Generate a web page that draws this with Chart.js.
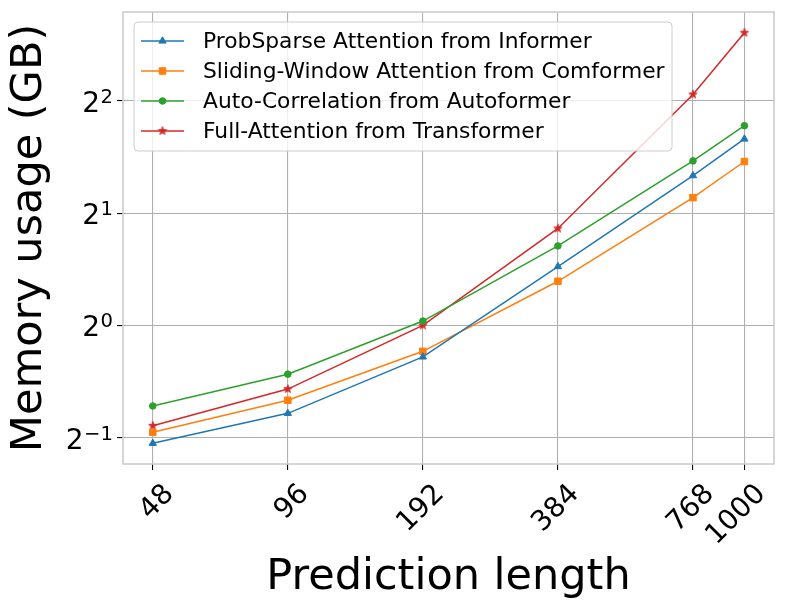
<!DOCTYPE html>
<html><head><meta charset="utf-8">
<script src="https://cdn.jsdelivr.net/npm/chart.js@4.4.0/dist/chart.umd.min.js"></script>
<style>html,body{margin:0;padding:0;background:#fff}#wrap{width:793px;height:611px;position:relative}</style>
</head><body><div id="wrap"><canvas id="c" width="793" height="611"></canvas></div>
<script>
// ---- data ----
const predictionLengths = [48, 96, 192, 384, 768, 1000];
const xTickLabels = ['48', '96', '192', '384', '768', '1000'];
const informerMem = [0.483, 0.581, 0.823, 1.438, 2.52, 3.16];
const comformerMem = [0.517, 0.630, 0.852, 1.313, 2.20, 2.75];
const autoformerMem = [0.608, 0.740, 1.027, 1.633, 2.76, 3.43];
const transformerMem = [0.538, 0.675, 1.0, 1.819, 4.16, 6.09];
const seriesNames = ['ProbSparse Attention from Informer', 'Sliding-Window Attention from Comformer', 'Auto-Correlation from Autoformer', 'Full-Attention from Transformer'];
const yTickValues = [0.5, 1, 2, 4];
const yTickBase = '2';
const yTickExponents = ['\u22121', '0', '1', '2'];
const xTitle = 'Prediction length';
const yTitle = 'Memory usage (GB)';

const FONT = "'DejaVu Sans', sans-serif";
const colors = ['#1f77b4', '#ff7f0e', '#2ca02c', '#d62728'];

function makeStar(color, R) {
  const s = 12;
  const c = document.createElement('canvas'); c.width = s; c.height = s;
  const g = c.getContext('2d');
  g.beginPath();
  for (let i = 0; i < 10; i++) {
    const r = i % 2 === 0 ? R : R * 0.42;
    const a = -Math.PI / 2 + i * Math.PI / 5;
    const px = s / 2 + r * Math.cos(a), py = s / 2 + r * Math.sin(a);
    if (i) g.lineTo(px, py); else g.moveTo(px, py);
  }
  g.closePath(); g.fillStyle = color; g.fill();
  g.strokeStyle = color; g.lineWidth = 0.8; g.stroke();
  return c;
}
const starImg = makeStar(colors[3], 4.4);

const seriesValues = [informerMem, comformerMem, autoformerMem, transformerMem];
const styles = [
  { pointStyle: 'triangle', radius: 4.2 },
  { pointStyle: 'rect', radius: 4.6 },
  { pointStyle: 'circle', radius: 3.3 },
  { pointStyle: starImg, radius: 4.5 }
];

const datasets = seriesValues.map((vals, i) => ({
  label: seriesNames[i],
  data: predictionLengths.map((x, j) => ({ x: x, y: vals[j] })),
  borderColor: colors[i],
  backgroundColor: colors[i],
  borderWidth: 1.5,
  pointStyle: styles[i].pointStyle,
  pointRadius: styles[i].radius,
  pointBorderWidth: 1,
  pointBorderColor: colors[i],
  pointBackgroundColor: colors[i],
  showLine: true,
  tension: 0
}));

const framePlugin = {
  id: 'frame',
  beforeDatasetsDraw(chart) {
    const { ctx, chartArea: a } = chart;
    ctx.save();
    ctx.strokeStyle = '#cccccc';
    ctx.lineWidth = 1.6;
    ctx.strokeRect(a.left, a.top, a.right - a.left, a.bottom - a.top);
    // y tick labels as 2 with a raised exponent (matplotlib mathtext style)
    const ys = chart.scales.y;
    ctx.fillStyle = '#000';
    ctx.textBaseline = 'alphabetic';
    ctx.textAlign = 'right';
    const rightX = a.left - 10;
    ys.ticks.forEach((t, i) => {
      const py = ys.getPixelForValue(t.value);
      const base = py + 11;
      ctx.font = '19.6px ' + FONT;
      const expW = ctx.measureText(yTickExponents[i]).width;
      ctx.fillText(yTickExponents[i], rightX, base - 9);
      ctx.font = '28px ' + FONT;
      ctx.fillText(yTickBase, rightX - expW - 0.5, base);
    });
    ctx.restore();
  }
};

const legendPlugin = {
  id: 'mplLegend',
  afterDatasetsDraw(chart) {
    const { ctx, chartArea: a } = chart;
    const bx = a.left + 11, by = a.top + 10, bw = 538, bh = 129;
    ctx.save();
    ctx.beginPath();
    if (ctx.roundRect) ctx.roundRect(bx, by, bw, bh, 4); else ctx.rect(bx, by, bw, bh);
    ctx.fillStyle = 'rgba(255,255,255,0.8)';
    ctx.fill();
    ctx.strokeStyle = '#cccccc';
    ctx.lineWidth = 1;
    ctx.stroke();
    ctx.font = '21.8px ' + FONT;
    ctx.textBaseline = 'middle';
    ctx.textAlign = 'left';
    chart.data.datasets.forEach((ds, i) => {
      const y = by + 19 + i * 30;
      const x0 = bx + 7, x1 = bx + 50;
      ctx.strokeStyle = ds.borderColor;
      ctx.lineWidth = 1.5;
      ctx.beginPath(); ctx.moveTo(x0, y); ctx.lineTo(x1, y); ctx.stroke();
      ctx.fillStyle = ds.borderColor;
      ctx.strokeStyle = ds.borderColor;
      ctx.lineWidth = 1;
      Chart.helpers.drawPoint(ctx, { pointStyle: ds.pointStyle, radius: ds.pointRadius, rotation: 0, borderWidth: 1 }, (x0 + x1) / 2, y);
      ctx.fillStyle = '#000';
      ctx.fillText(ds.label, bx + 69, y + 1);
    });
    ctx.restore();
  }
};

function zeroPad(s) { s.paddingLeft = 0; s.paddingRight = 0; s.paddingTop = 0; s.paddingBottom = 0; }

new Chart(document.getElementById('c'), {
  type: 'scatter',
  data: { datasets },
  options: {
    responsive: false,
    animation: false,
    devicePixelRatio: 1,
    layout: { padding: { left: 0, top: 12, right: 19, bottom: 0 } },
    plugins: { legend: { display: false }, tooltip: { enabled: false } },
    scales: {
      x: {
        type: 'logarithmic',
        min: 41.2, max: 1164,
        afterBuildTicks(s) { s.ticks = predictionLengths.map(v => ({ value: v, major: false })); },
        afterFit(s) { s.height = 147; zeroPad(s); },
        grid: { color: '#b0b0b0', lineWidth: 1.1, drawTicks: true, tickLength: 6, tickColor: '#000', tickWidth: 1.1 },
        border: { display: false },
        ticks: {
          autoSkip: false, minRotation: 45, maxRotation: 45,
          font: { family: FONT, size: 28 }, color: '#000', padding: 8, labelOffset: 17,
          callback: (v, i) => xTickLabels[i]
        },
        title: { display: true, text: xTitle, font: { family: FONT, size: 43 }, color: '#000', padding: { top: 0, bottom: 7 } }
      },
      y: {
        type: 'logarithmic',
        min: 0.425, max: 6.92,
        afterBuildTicks(s) { s.ticks = yTickValues.map(v => ({ value: v, major: false })); },
        afterFit(s) { s.width = 123; zeroPad(s); },
        grid: { color: '#b0b0b0', lineWidth: 1.1, drawTicks: true, tickLength: 6, tickColor: '#000', tickWidth: 1.1 },
        border: { display: false },
        ticks: { display: false, font: { family: FONT, size: 28 } },
        title: { display: true, text: yTitle, font: { family: FONT, size: 43 }, color: '#000', padding: { top: 4, bottom: 0 } }
      }
    }
  },
  plugins: [framePlugin, legendPlugin]
});
</script>
</body></html>
